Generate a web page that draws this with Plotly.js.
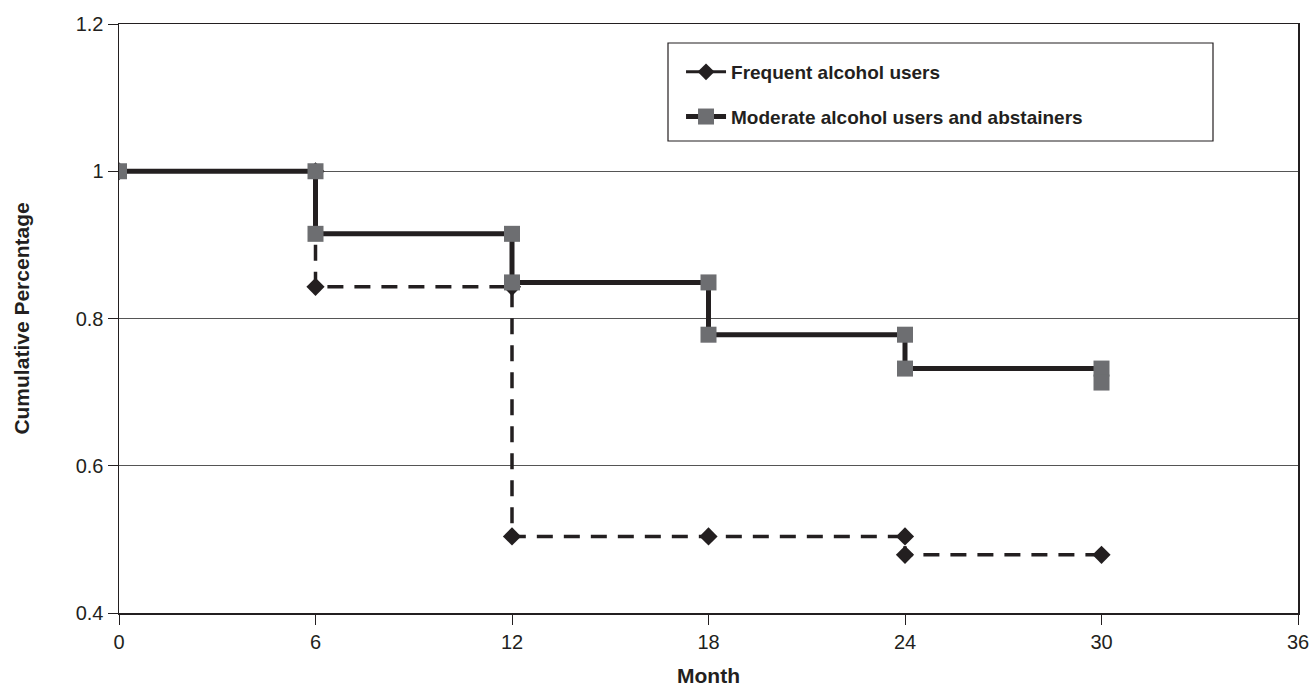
<!DOCTYPE html>
<html>
<head>
<meta charset="utf-8">
<script src="https://cdn.plot.ly/plotly-3.0.1.min.js"></script>
<style>html,body{margin:0;padding:0;background:#fff;}#chart{width:1313px;height:687px;}</style>
</head>
<body>
<div id="chart"></div>
<script>
// Data (step-function vertices)
const frequentMonths = [0, 6, 6, 12, 12, 18, 24, 24, 30];
const frequentValues = [1, 1, 0.843, 0.843, 0.504, 0.504, 0.504, 0.479, 0.479];
const moderateMonths = [0, 6, 6, 12, 12, 18, 18, 24, 24, 30, 30];
const moderateValues = [1, 1, 0.915, 0.915, 0.849, 0.849, 0.778, 0.778, 0.732, 0.732, 0.713];
const seriesNames = ["Frequent alcohol users", "Moderate alcohol users and abstainers"];
const xTicks = [0, 6, 12, 18, 24, 30, 36];
const yTicks = [0.4, 0.6, 0.8, 1.0, 1.2];
const yTickLabels = ["0.4", "0.6", "0.8", "1", "1.2"];

const ink = "#231f20";
const grey = "#6d6e71";
const fontFam = "'Liberation Sans', Arial, Helvetica, sans-serif";

const traces = [
  {
    x: frequentMonths, y: frequentValues, type: "scatter", mode: "lines+markers",
    line: {color: ink, width: 3.5, dash: "16px,11px"},
    marker: {symbol: "diamond", size: 14, color: ink},
    showlegend: false, hoverinfo: "x+y"
  },
  {
    x: moderateMonths, y: moderateValues, type: "scatter", mode: "lines+markers",
    line: {color: ink, width: 5},
    marker: {symbol: "square", size: 16, color: grey, line: {width: 0}},
    showlegend: false, hoverinfo: "x+y"
  },
  // legend-only entries (solid lines as in the reference key)
  {
    x: [null], y: [null], type: "scatter", mode: "lines+markers", name: seriesNames[0],
    line: {color: ink, width: 3}, marker: {symbol: "diamond", size: 13, color: ink},
    legendgroup: "a"
  },
  {
    x: [null], y: [null], type: "scatter", mode: "lines+markers", name: seriesNames[1],
    line: {color: ink, width: 5}, marker: {symbol: "square", size: 16, color: grey},
    legendgroup: "b"
  }
];

const layout = {
  width: 1313, height: 687,
  margin: {l: 119, r: 15, t: 24, b: 74},
  paper_bgcolor: "#fff", plot_bgcolor: "#fff",
  font: {family: fontFam, size: 20, color: ink},
  xaxis: {
    range: [0, 36], tickvals: xTicks, ticktext: xTicks.map(String),
    ticks: "outside", ticklen: 10, tickwidth: 1, tickcolor: ink,
    showline: true, linecolor: ink, linewidth: 1.5, mirror: true,
    showgrid: false, zeroline: false, automargin: false,
    tickfont: {size: 20, color: ink},
    title: {text: "<b>Month</b>", font: {size: 21, color: ink}, standoff: 24}
  },
  yaxis: {
    range: [0.4, 1.2], tickvals: yTicks, ticktext: yTickLabels,
    ticks: "outside", ticklen: 10, tickwidth: 1, tickcolor: ink,
    showline: true, linecolor: ink, linewidth: 1.5, mirror: true,
    showgrid: true, gridcolor: "#555", gridwidth: 1, zeroline: false, automargin: false,
    tickfont: {size: 20, color: ink},
    title: {text: "<b>Cumulative Percentage</b>", font: {size: 21, color: ink}, standoff: 40}
  },
  legend: {
    x: 0.4767, y: 0.9508, xanchor: "left", yanchor: "top",
    bgcolor: "rgba(0,0,0,0)", borderwidth: 0,
    font: {size: 19, color: ink, family: fontFam, weight: "bold"},
    tracegroupgap: 17, itemwidth: 40
  },
  shapes: [
    {type: "rect", xref: "paper", yref: "paper",
     x0: (668 - 119) / 1179, x1: (1213 - 119) / 1179,
     y0: (613 - 141) / 589, y1: (613 - 43) / 589,
     line: {color: ink, width: 1.2}, fillcolor: "rgba(255,255,255,1)", layer: "below"}
  ]
};

Plotly.newPlot("chart", traces, layout, {displayModeBar: false, staticPlot: true});
</script>
</body>
</html>
